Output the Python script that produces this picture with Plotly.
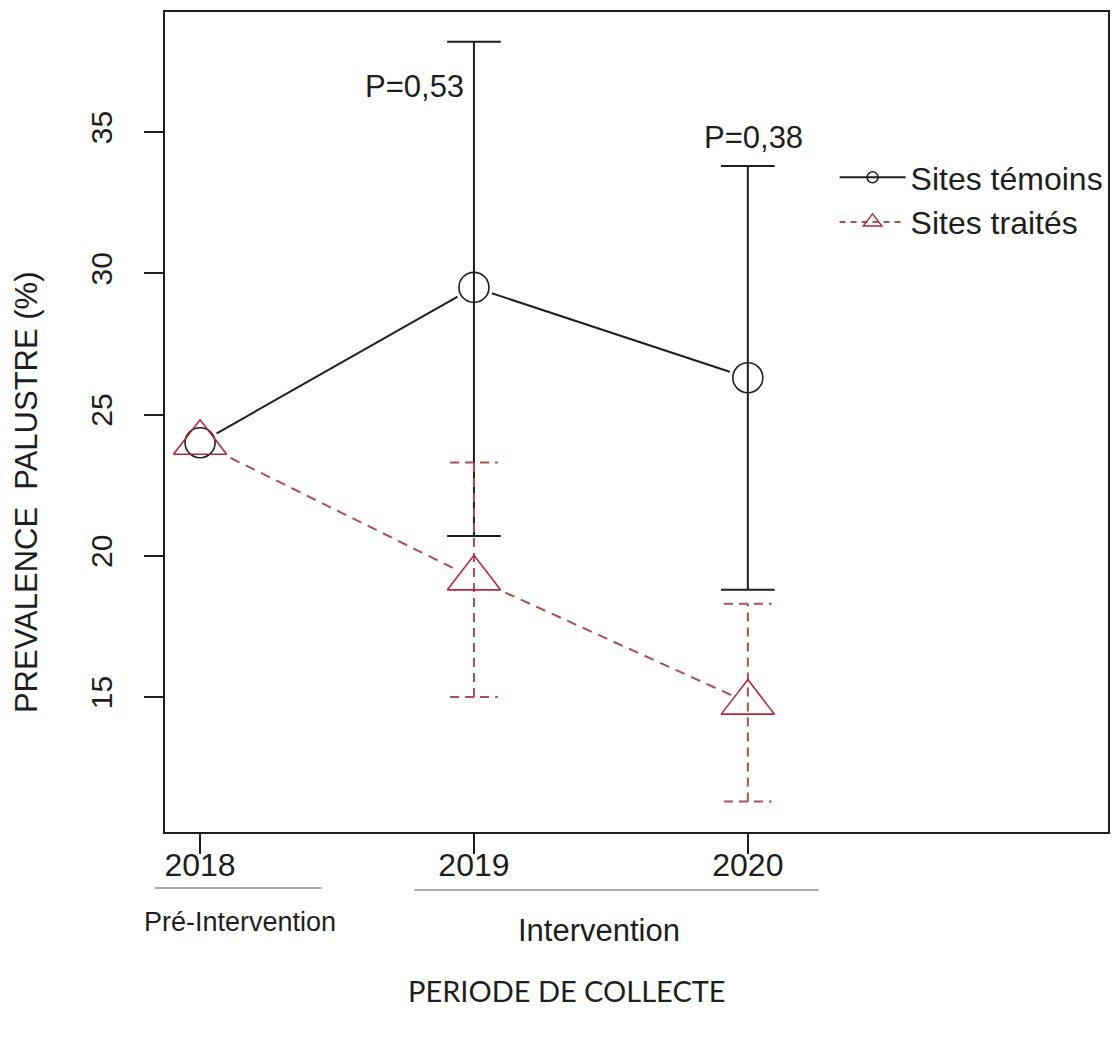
import plotly.graph_objects as go

# ---- data ----
years = [2018, 2019, 2020]
year_labels = ["2018", "2019", "2020"]
temoins = [24.0, 29.5, 26.3]
temoins_low = [None, 20.7, 18.8]
temoins_high = [None, 38.2, 33.8]
traites = [24.0, 19.2, 14.8]
traites_low = [None, 15.0, 11.3]
traites_high = [None, 23.3, 18.3]
y_ticks = [15, 20, 25, 30, 35]
p_values = ["P=0,53", "P=0,38"]

BLACK = "#1e1e1e"
RED_M = "#b3283c"
RED_L = "#a8505a"
FONT = "Liberation Sans, Arial, sans-serif"


def bar_segments(xs, lo, hi, half):
    X, Y = [], []
    for x, l, h in zip(xs, lo, hi):
        if l is None or h is None:
            continue
        X += [x, x, None, x - half, x + half, None, x - half, x + half, None]
        Y += [l, h, None, l, l, None, h, h, None]
    return X, Y


fig = go.Figure()

# connecting lines
fig.add_trace(go.Scatter(x=years, y=temoins, mode="lines",
                         line=dict(color=BLACK, width=2), showlegend=False, hoverinfo="skip"))
fig.add_trace(go.Scatter(x=years, y=traites, mode="lines",
                         line=dict(color=RED_L, width=2, dash="10px,7px"),
                         showlegend=False, hoverinfo="skip"))

# white underlay to create gaps around symbols
fig.add_trace(go.Scatter(x=years, y=temoins, mode="markers",
                         marker=dict(symbol="circle", size=38, color="white",
                                     line=dict(width=0)), showlegend=False, hoverinfo="skip"))
fig.add_trace(go.Scatter(x=years, y=traites, mode="markers",
                         marker=dict(symbol="triangle-up", size=54, color="white",
                                     line=dict(width=0)), showlegend=False, hoverinfo="skip"))

# error bars
bx, by = bar_segments(years, temoins_low, temoins_high, 0.098)
fig.add_trace(go.Scatter(x=bx, y=by, mode="lines", line=dict(color=BLACK, width=2),
                         showlegend=False, hoverinfo="skip"))
rx, ry = bar_segments(years, traites_low, traites_high, 0.087)
fig.add_trace(go.Scatter(x=rx, y=ry, mode="lines",
                         line=dict(color=RED_L, width=2, dash="9px,6px"),
                         showlegend=False, hoverinfo="skip"))

# open symbols
fig.add_trace(go.Scatter(x=years, y=temoins, mode="markers",
                         marker=dict(symbol="circle-open", size=30, color=BLACK,
                                     line=dict(width=1.6, color=BLACK)),
                         showlegend=False))
fig.add_trace(go.Scatter(x=years, y=traites, mode="markers",
                         marker=dict(symbol="triangle-up-open", size=46, color=RED_M,
                                     line=dict(width=1.6, color=RED_M)),
                         showlegend=False))

# legend entries
fig.add_trace(go.Scatter(x=[None], y=[None], mode="lines+markers", name="Sites témoins",
                         line=dict(color=BLACK, width=2),
                         marker=dict(symbol="circle-open", size=11, color=BLACK,
                                     line=dict(width=1.5, color=BLACK))))
fig.add_trace(go.Scatter(x=[None], y=[None], mode="lines+markers", name="Sites traités",
                         line=dict(color=RED_L, width=2, dash="6px,5px"),
                         marker=dict(symbol="triangle-up-open", size=16, color=RED_M,
                                     line=dict(width=1.5, color=RED_M))))

annotations = [
    dict(x=years[1], y=36.6, xref="x", yref="y", text=p_values[0], showarrow=False,
         xanchor="right", yanchor="middle", xshift=-8, font=dict(size=31, color=BLACK, family=FONT)),
    dict(x=years[2], y=34.8, xref="x", yref="y", text=p_values[1], showarrow=False,
         xanchor="center", yanchor="middle", xshift=6, font=dict(size=31, color=BLACK, family=FONT)),
    dict(x=-0.147, y=0.415, xref="paper", yref="paper", text="PREVALENCE\u00a0 PALUSTRE (%)",
         showarrow=False, textangle=-90, xanchor="center", yanchor="middle",
         font=dict(size=31, color=BLACK, family=FONT)),
    dict(x=(240 - 165) / 945, y=(832 - 922) / 820, xref="paper", yref="paper",
         text="Pré-Intervention", showarrow=False, xanchor="center", yanchor="middle",
         font=dict(size=27, color=BLACK, family=FONT)),
    dict(x=(600 - 165) / 945, y=(832 - 930) / 820, xref="paper", yref="paper",
         text="Intervention", showarrow=False, xanchor="center", yanchor="middle",
         font=dict(size=31, color=BLACK, family=FONT)),
    dict(x=(568 - 165) / 945, y=(832 - 990) / 820, xref="paper", yref="paper",
         text="PERIODE DE COLLECTE", showarrow=False, xanchor="center", yanchor="middle",
         font=dict(size=29, color=BLACK, family="Lato, Open Sans, sans-serif")),
]

shapes = [
    dict(type="line", xref="paper", yref="paper",
         x0=(155 - 165) / 945, x1=(322 - 165) / 945,
         y0=(832 - 888) / 820, y1=(832 - 888) / 820,
         line=dict(color="#a8a8a8", width=2)),
    dict(type="line", xref="paper", yref="paper",
         x0=(415 - 165) / 945, x1=(820 - 165) / 945,
         y0=(832 - 890) / 820, y1=(832 - 890) / 820,
         line=dict(color="#a8a8a8", width=2)),
]

fig.update_layout(
    width=1113, height=1054,
    margin=dict(l=165, r=3, t=12, b=222),
    paper_bgcolor="white", plot_bgcolor="white",
    font=dict(family=FONT, color=BLACK),
    showlegend=True,
    legend=dict(x=(836 - 165) / 945, y=(832 - 150) / 820, xanchor="left", yanchor="top",
                bgcolor="rgba(0,0,0,0)", font=dict(size=32, family=FONT, color=BLACK),
                tracegroupgap=0, itemwidth=66),
    annotations=annotations,
    shapes=shapes,
)

fig.update_xaxes(range=[2017.872, 2021.315], tickmode="array", tickvals=years,
                 ticktext=year_labels, ticks="outside", ticklen=20, tickwidth=2,
                 tickcolor=BLACK, showline=True, linecolor=BLACK, linewidth=2,
                 mirror=True, showgrid=False, zeroline=False, ticklabelstandoff=-16,
                 tickfont=dict(size=32, family=FONT, color=BLACK))
fig.update_yaxes(range=[10.22, 39.25], tickmode="array", tickvals=y_ticks,
                 ticks="outside", ticklen=19, tickwidth=2, tickcolor=BLACK,
                 tickangle=-90, showline=True, linecolor=BLACK, linewidth=2,
                 mirror=True, showgrid=False, zeroline=False, ticklabelstandoff=20,
                 tickfont=dict(size=30, family=FONT, color=BLACK))

fig.write_html("out.html")
